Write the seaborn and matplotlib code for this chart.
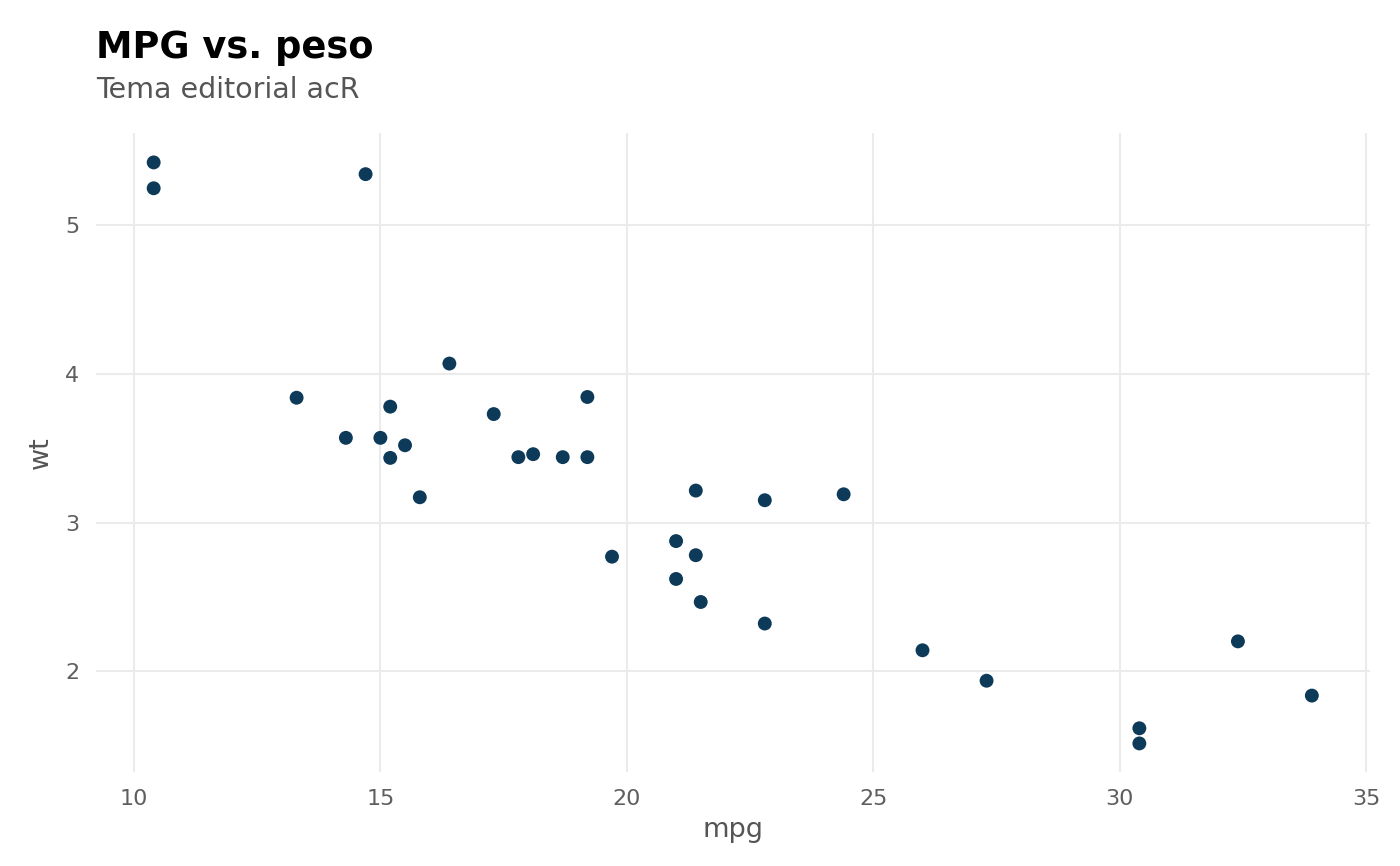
import matplotlib
matplotlib.use("Agg")
import matplotlib.pyplot as plt
import seaborn as sns
import pandas as pd

# mtcars: mpg vs wt
mpg = [21.0, 21.0, 22.8, 21.4, 18.7, 18.1, 14.3, 24.4, 22.8, 19.2, 17.8,
       16.4, 17.3, 15.2, 10.4, 10.4, 14.7, 32.4, 30.4, 33.9, 21.5, 15.5,
       15.2, 13.3, 19.2, 27.3, 26.0, 30.4, 15.8, 19.7, 15.0, 21.4]
wt = [2.620, 2.875, 2.320, 3.215, 3.440, 3.460, 3.570, 3.190, 3.150, 3.440,
      3.440, 4.070, 3.730, 3.780, 5.250, 5.424, 5.345, 2.200, 1.615, 1.835,
      2.465, 3.520, 3.435, 3.840, 3.845, 1.935, 2.140, 1.513, 3.170, 2.770,
      3.570, 2.780]
x_ticks = [10, 15, 20, 25, 30, 35]
y_ticks = [2, 3, 4, 5]

df = pd.DataFrame({"mpg": mpg, "wt": wt})

sns.set_style("white")
plt.rcParams["font.family"] = ["DejaVu Sans"]

fig = plt.figure(figsize=(14, 8.66), dpi=100)
ax = fig.add_axes([0.0684, 0.108, 0.91, 0.738])

sns.scatterplot(data=df, x="mpg", y="wt", ax=ax, color="#0d3a58",
                s=100, edgecolor="none", zorder=3)

xr = max(mpg) - min(mpg)
yr = max(wt) - min(wt)
ax.set_xlim(min(mpg) - 0.05 * xr, max(mpg) + 0.05 * xr)
ax.set_ylim(min(wt) - 0.05 * yr, max(wt) + 0.05 * yr)
ax.set_xticks(x_ticks)
ax.set_yticks(y_ticks)

ax.grid(True, color="#ebebeb", linewidth=1.5, zorder=0)
ax.set_axisbelow(True)
for s in ax.spines.values():
    s.set_visible(False)
ax.tick_params(length=0, labelsize=16, labelcolor="#5e5e5e", pad=12)
ax.set_xlabel("mpg", fontsize=19.5, color="#555555", labelpad=6)
ax.set_ylabel("wt", fontsize=19.5, color="#555555", labelpad=8)

fig.text(0.0684, 0.933, "MPG vs. peso", fontsize=26.5, fontweight="bold",
         color="black", ha="left", va="baseline")
fig.text(0.0684, 0.887, "Tema editorial acR", fontsize=20.5, color="#555555",
         ha="left", va="baseline")

fig.savefig("out.png", dpi=100)
